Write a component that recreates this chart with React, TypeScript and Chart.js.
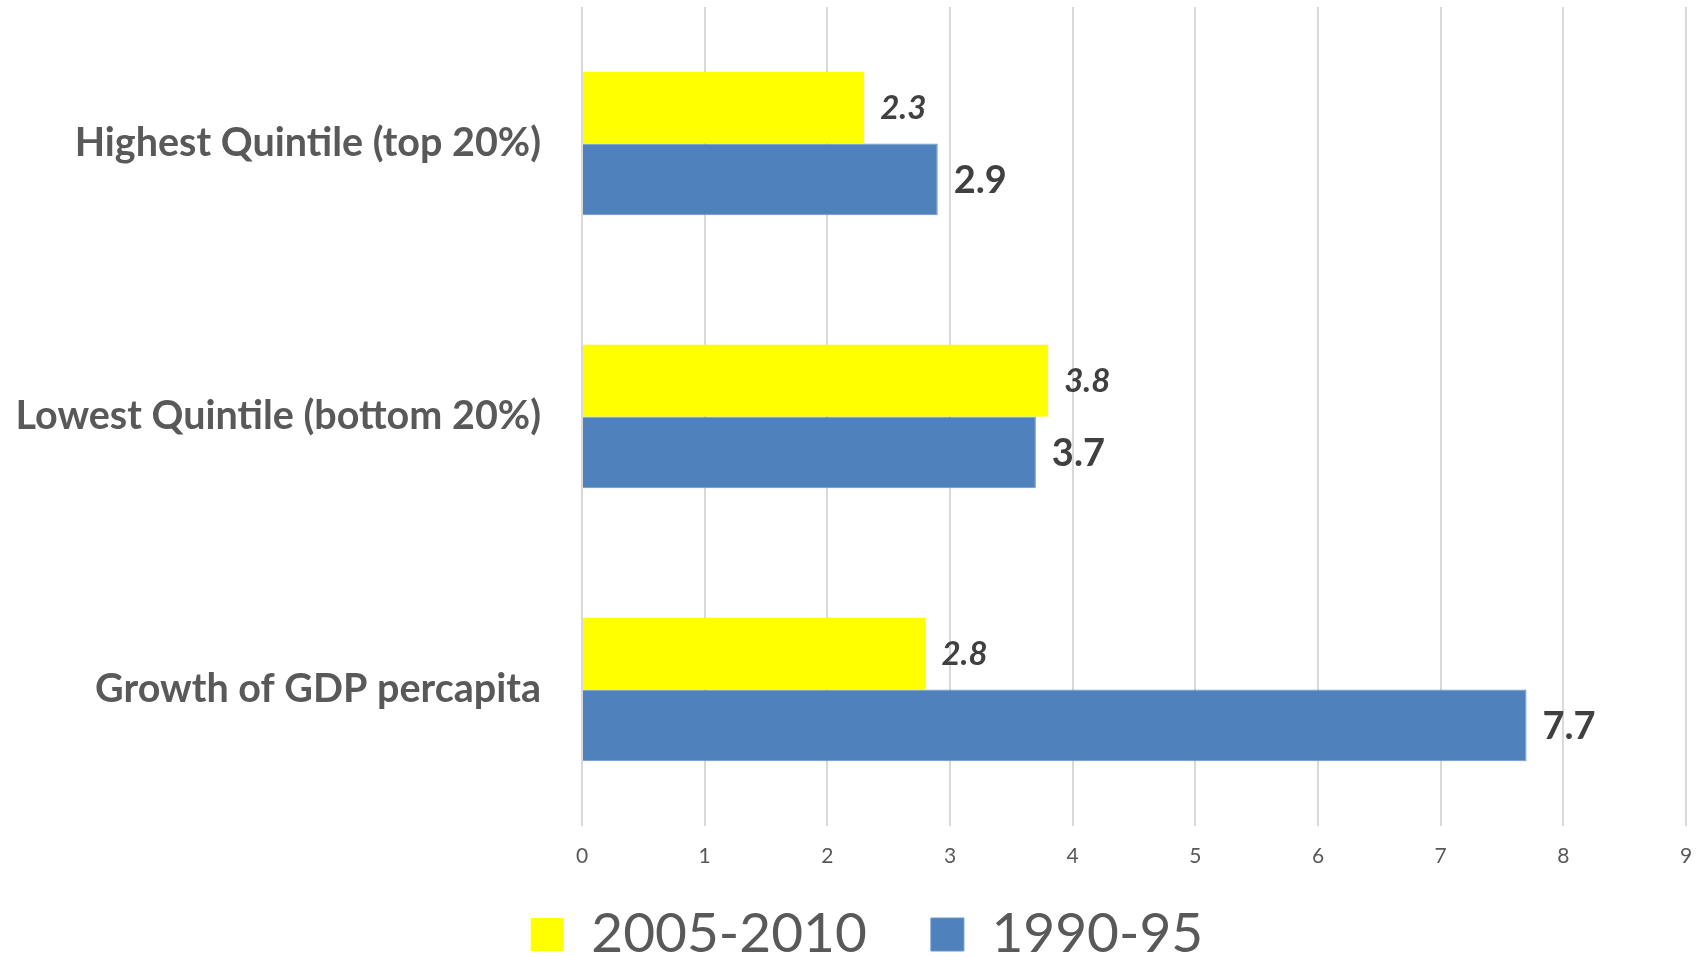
import React, { useEffect, useRef } from "react";
import { Chart, registerables } from "chart.js";

Chart.register(...registerables);

const categories = ["Highest Quintile (top 20%)", "Lowest Quintile (bottom 20%)", "Growth of GDP percapita"];
const seriesNames = ["2005-2010", "1990-95"];
const values2005 = [2.3, 3.8, 2.8];
const values1990 = [2.9, 3.7, 7.7];
const xTicksMin = 0;
const xTicksMax = 9;

const FONT = "Lato, 'Open Sans', sans-serif";

const valueLabelPlugin = {
  id: "valueLabels",
  afterDatasetsDraw(chart: any) {
    const ctx = chart.ctx;
    chart.data.datasets.forEach((ds: any, di: number) => {
      const meta = chart.getDatasetMeta(di);
      meta.data.forEach((el: any, i: number) => {
        const v = ds.data[i];
        ctx.save();
        ctx.fillStyle = "#404040";
        ctx.textBaseline = "middle";
        ctx.textAlign = "left";
        if (di === 0) {
          ctx.font = `italic bold 33px ${FONT}`;
        } else {
          ctx.font = `bold 38px ${FONT}`;
        }
        ctx.fillText(v.toFixed(1), el.x + 16, el.y + 1);
        ctx.restore();
      });
    });
  },
};

const LEGEND_BOX_HEIGHT = 89;
const LEGEND_SHIFT_UP = 25;
const LEGEND_SHIFT_RIGHT = 24;

const legendPatch = {
  id: "legendPatch",
  beforeLayout(chart: any) {
    const lg = chart.legend;
    if (lg && !lg.__patched) {
      const orig = lg.fit.bind(lg);
      lg.fit = function () {
        orig();
        this.height = LEGEND_BOX_HEIGHT;
      };
      lg.__patched = true;
    }
  },
  afterLayout(chart: any) {
    const lg = chart.legend;
    if (lg) {
      lg.top -= LEGEND_SHIFT_UP;
      lg.left += LEGEND_SHIFT_RIGHT;
      lg.right += LEGEND_SHIFT_RIGHT;
    }
  },
};

export default function App() {
  const ref = useRef<HTMLCanvasElement>(null);
  useEffect(() => {
    document.body.style.margin = "0";
    const chart = new Chart(ref.current as HTMLCanvasElement, {
      type: "bar",
      data: {
        labels: categories,
        datasets: [
          {
            label: seriesNames[0],
            data: values2005,
            backgroundColor: "#FFFF00",
            categoryPercentage: 0.525,
            barPercentage: 1,
          },
          {
            label: seriesNames[1],
            data: values1990,
            backgroundColor: "#4F81BD",
            borderColor: "#6A96CC",
            borderWidth: 1,
            categoryPercentage: 0.525,
            barPercentage: 1,
          },
        ],
      },
      options: {
        indexAxis: "y",
        animation: false,
        responsive: false,
        devicePixelRatio: 1,
        layout: { padding: { left: 0, right: 14, top: 7, bottom: 0 } },
        scales: {
          x: {
            min: xTicksMin,
            max: xTicksMax,
            grid: { color: "#D9D9D9", lineWidth: 2, drawTicks: false },
            border: { display: false },
            ticks: { stepSize: 1, padding: 18, color: "#595959", font: { family: FONT, size: 21 } },
            afterFit: (s: any) => {
              s.height = 42;
              s.paddingLeft = 0;
              s.paddingRight = 0;
            },
          },
          y: {
            grid: { display: false, drawTicks: false },
            border: { display: false },
            ticks: { padding: 41, color: "#595959", font: { family: FONT, size: 39.5, weight: "bold" } },
            afterFit: (s: any) => {
              s.width = 582;
              s.paddingTop = 0;
              s.paddingBottom = 0;
            },
          },
        },
        plugins: {
          legend: {
            position: "bottom",
            labels: {
              boxWidth: 33,
              boxHeight: 33,
              padding: 64,
              color: "#595959",
              font: { family: FONT, size: 55 },
            },
          },
          tooltip: { enabled: false },
        },
      },
      plugins: [valueLabelPlugin, legendPatch],
    } as any);
    return () => chart.destroy();
  }, []);
  return (
    <div style={{ width: 1700, height: 957 }}>
      <canvas ref={ref} width={1700} height={957} />
    </div>
  );
}
